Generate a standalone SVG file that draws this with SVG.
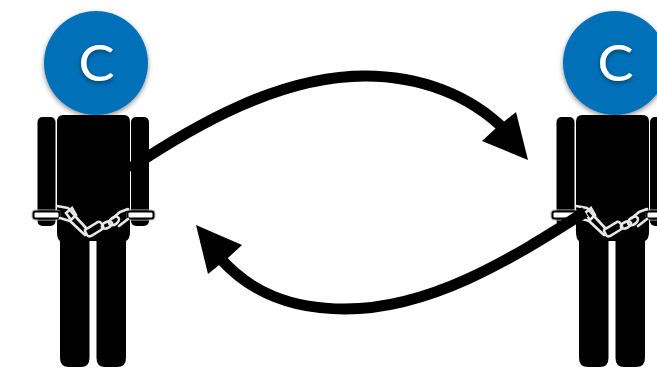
<svg xmlns="http://www.w3.org/2000/svg" width="657" height="375" viewBox="0 0 657 375">
<style>
.conn{fill:none;stroke:#000;stroke-width:11}
.head{fill:#000}
.body{fill:#000}
.cuff{fill:#fff;stroke:#000;stroke-width:2}
.cuffo{fill:none;stroke:#bbb;stroke-width:1}
.chain{fill:none;stroke:#e8e8e8;stroke-width:2.600;stroke-linejoin:round;stroke-linecap:round}
.link{fill:none;stroke:#e8e8e8;stroke-width:2.600}
.c{font-family:"Lato","Open Sans",sans-serif;font-size:50px;fill:#fff;text-anchor:middle}
</style>
<defs>
<filter id="sh" x="-20%" y="-20%" width="140%" height="140%"><feDropShadow dx="0" dy="2" stdDeviation="2.5" flood-color="#000" flood-opacity=".45"/></filter>
<g id="person">
<circle cx="96" cy="63" r="52" fill="#0071b8" filter="url(#sh)"/>
<text class="c" transform="translate(96.500 81) scale(1.08 1)" filter="url(#sh)">C</text>
<rect class="body" x="37.500" y="117" width="18" height="109" rx="5"/>
<rect class="body" x="131" y="117" width="18" height="109" rx="5"/>
<path class="body" d="M63 115H124Q130 115 130 122V232Q130 239 126 241V358Q126 367 117 367H105Q96.500 367 96.500 358V241H89.500V358Q89.500 367 81 367H69Q60 367 60 358V241Q57 239 57 232V122Q57 115 63 115Z"/>
<rect class="cuffo" x="32" y="210" width="28" height="10" rx="3"/>
<rect class="cuff" x="33.500" y="211.500" width="26" height="7" rx="2"/>
<rect class="cuffo" x="127" y="210" width="28" height="10" rx="3"/>
<rect class="cuff" x="127.500" y="211.500" width="26" height="7" rx="2"/>
<path class="chain" d="M57 206L68 208L75 216L86 228M60 218L70 221L85 235"/>
<path class="link" d="M72 208L66 213L71 220L76 215Z"/>
<path class="link" d="M85 231Q85 229 88 228L98 222Q100 221 102 224L103 226Q104 228 101 230L91 236Q88 237 87 235Z"/>
<ellipse class="link" cx="107" cy="225" rx="5.500" ry="3" transform="rotate(-25 107 225)"/>
<ellipse class="link" cx="114" cy="221" rx="5.500" ry="3.500" transform="rotate(-35 114 221)"/>
<path class="chain" d="M128 209L120 212L113 218M128 219L119 226"/>
</g>
</defs>
<use href="#person" id="p1"/>
<use href="#person" id="p2" x="519"/>
<g id="connectors">
<path class="conn" d="M129 169C195 125 280 76 365 76C420 76 470 95 505 130"/>
<polygon class="head" points="528,160 482,141 495,129 516,112"/>
<path class="conn" d="M585 212C510 260 430 309 345 309C290 309 250 292 220 258"/>
<polygon class="head" points="196,225 242,245 229,257 208,274"/>
</g>
</svg>
